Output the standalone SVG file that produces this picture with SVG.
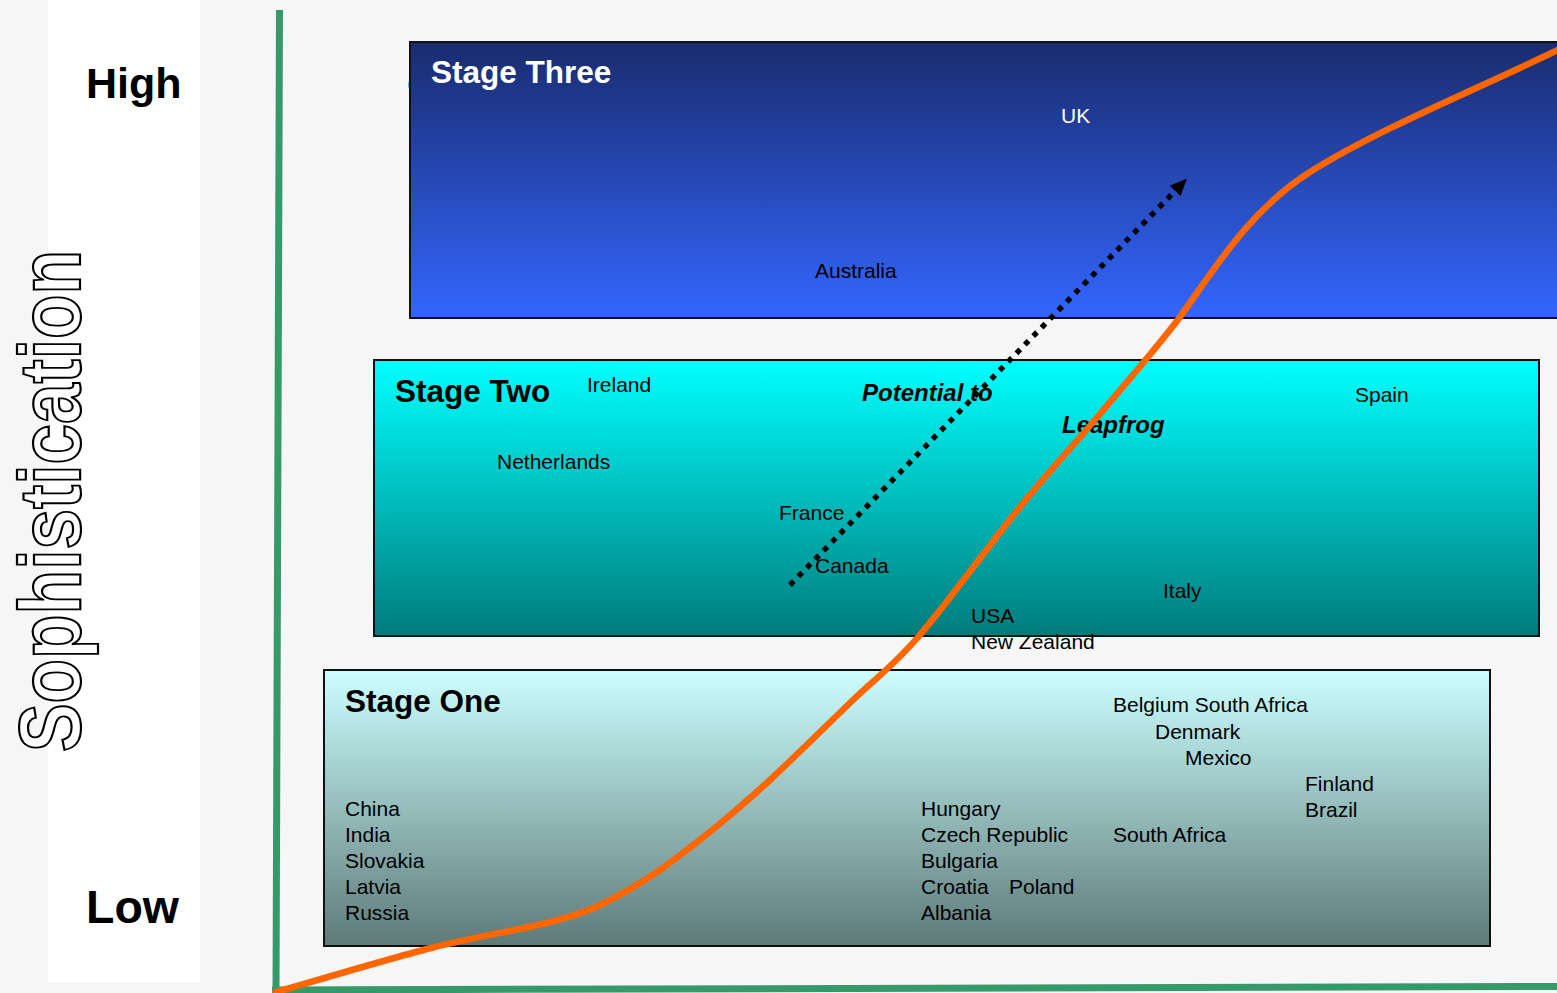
<svg xmlns="http://www.w3.org/2000/svg" width="1557" height="993" viewBox="0 0 1557 993">
  <defs>
    <linearGradient id="g3" x1="0" y1="0" x2="0" y2="1">
      <stop offset="0" stop-color="#1a2c6e"/>
      <stop offset="1" stop-color="#3366ff"/>
    </linearGradient>
    <linearGradient id="g2" x1="0" y1="0" x2="0" y2="1">
      <stop offset="0" stop-color="#00ffff"/>
      <stop offset="1" stop-color="#007b7b"/>
    </linearGradient>
    <linearGradient id="g1" x1="0" y1="0" x2="0" y2="1">
      <stop offset="0" stop-color="#ccffff"/>
      <stop offset="1" stop-color="#5e7a79"/>
    </linearGradient>
    <marker id="arrow" markerUnits="userSpaceOnUse" markerWidth="18" markerHeight="16" refX="0" refY="7.5" orient="auto">
      <path d="M0,0 L17,7.5 L0,15 z" fill="#000"/>
    </marker>
    <style>
      text { font-family: "Liberation Sans", Arial, sans-serif; }
      .lbl { font-size: 21px; fill: #000; }
      .stage { font-size: 31.5px; font-weight: bold; fill: #000; }
      .axis-lbl { font-weight: bold; fill: #000; }
      .box { stroke: #111; stroke-width: 2; }
      .emph { font-size: 24px; font-weight: bold; font-style: italic; fill: #000; }
      .axis { stroke: #35996a; stroke-width: 7; fill: none; }
    </style>
  </defs>

  <rect x="0" y="0" width="1557" height="993" fill="#f6f6f6"/>
  <rect x="48" y="0" width="152" height="982" fill="#ffffff"/>

  <g id="y-axis-title">
    <text transform="translate(80,752) rotate(-90)" font-size="88" font-weight="bold" fill="#ffffff" stroke="#000" stroke-width="2.2" textLength="502" lengthAdjust="spacingAndGlyphs">Sophistication</text>
  </g>
  <g id="label-high"><text class="axis-lbl" x="86" y="98" font-size="43">High</text></g>
  <g id="label-low"><text class="axis-lbl" x="86" y="923" font-size="46.5">Low</text></g>

  <g id="axes">
    <line class="axis" x1="279.5" y1="10" x2="276" y2="993"/>
    <line class="axis" x1="272" y1="990" x2="1557" y2="986.5"/>
  </g>

  <g id="stage-three">
    <circle cx="417" cy="85" r="9" fill="#00cccc"/>
    <rect class="box" x="410" y="42" width="1160" height="276" fill="url(#g3)"/>
    <text class="stage" x="431" y="83" style="fill:#ffffff">Stage Three</text>
    <text class="lbl" x="1061" y="123" style="fill:#ffffff">UK</text>
    <text class="lbl" x="815" y="278">Australia</text>
  </g>

  <g id="stage-two">
    <rect class="box" x="374" y="360" width="1165" height="276" fill="url(#g2)"/>
    <text class="stage" x="395" y="402">Stage Two</text>
    <text class="lbl" x="587" y="392">Ireland</text>
    <text class="lbl" x="1355" y="402">Spain</text>
    <text class="lbl" x="497" y="469">Netherlands</text>
    <text class="lbl" x="779" y="520">France</text>
    <text class="lbl" x="815" y="573">Canada</text>
    <text class="lbl" x="1163" y="598">Italy</text>
    <text class="lbl" x="971" y="623">USA</text>
    <text class="lbl" x="971" y="649">New Zealand</text>
    <text class="emph" x="862" y="401">Potential to</text>
    <text class="emph" x="1062" y="433">Leapfrog</text>
  </g>

  <g id="stage-one">
    <rect class="box" x="324" y="670" width="1166" height="276" fill="url(#g1)"/>
    <text class="stage" x="345" y="712">Stage One</text>
    <text class="lbl" x="345" y="816">China</text>
    <text class="lbl" x="345" y="842">India</text>
    <text class="lbl" x="345" y="868">Slovakia</text>
    <text class="lbl" x="345" y="894">Latvia</text>
    <text class="lbl" x="345" y="920">Russia</text>
    <text class="lbl" x="921" y="816">Hungary</text>
    <text class="lbl" x="921" y="842">Czech Republic</text>
    <text class="lbl" x="921" y="868">Bulgaria</text>
    <text class="lbl" x="921" y="894">Croatia</text>
    <text class="lbl" x="1009" y="894">Poland</text>
    <text class="lbl" x="921" y="920">Albania</text>
    <text class="lbl" x="1113" y="712">Belgium South Africa</text>
    <text class="lbl" x="1155" y="739">Denmark</text>
    <text class="lbl" x="1185" y="765">Mexico</text>
    <text class="lbl" x="1305" y="791">Finland</text>
    <text class="lbl" x="1305" y="817">Brazil</text>
    <text class="lbl" x="1113" y="842">South Africa</text>
  </g>

  <g id="connectors">
    <path id="adoption-curve" fill="none" stroke="#ff6600" stroke-width="6.5" stroke-linecap="butt"
      d="M273,993 C299.3,985.5 386.8,959.3 431,948 C475.2,936.7 511.3,931.3 538,925 C564.7,918.7 580,914 596,907 C615,898 640,884 663,868 C682,854 700,840 716,827 C733.8,812 747.2,801.2 770,780 C792.8,758.8 828.2,724 853,700 C877.8,676 891.2,668.2 919,636 C946.8,603.8 989.8,544 1020,507 C1050.2,470 1073.3,445.7 1100,414 C1126.7,382.3 1155.5,349.3 1180,317 C1215,268 1250,210 1310,172 C1380,128 1480,88 1562,48"/>
    <line id="leapfrog-arrow" x1="790" y1="585" x2="1175" y2="191" stroke="#000" stroke-width="5.4" stroke-dasharray="5.4 6.6" marker-end="url(#arrow)"/>
  </g>
</svg>
